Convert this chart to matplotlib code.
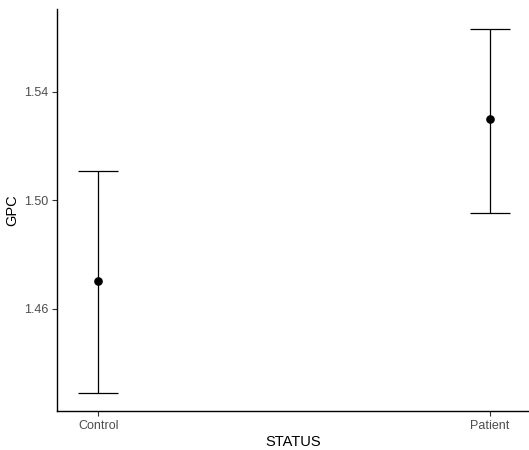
import matplotlib
matplotlib.use('Agg')
import matplotlib.pyplot as plt

# data
groups = ['Control', 'Patient']
means = [1.4701, 1.5298]
upper = [1.5109, 1.5633]
lower = [1.4290, 1.4952]

plt.rcParams['font.family'] = 'Liberation Sans'

fig = plt.figure(figsize=(5.29, 4.5), dpi=100)
ax = fig.add_axes([57 / 529, 1 - 411 / 450, 472 / 529, 402 / 450])

x = [1, 2]
yerr = [[m - l for m, l in zip(means, lower)],
        [u - m for m, u in zip(means, upper)]]
ax.errorbar(x, means, yerr=yerr, fmt='none', ecolor='black',
            elinewidth=0.9, capsize=14.4, capthick=0.9)
ax.plot(x, means, 'o', color='black', markersize=5.2)

ax.set_xlim(0.895, 2.1)
ax.set_ylim(1.4223, 1.5705)
ax.set_xticks(x)
ax.set_xticklabels(groups)
ax.set_yticks([1.46, 1.50, 1.54])
ax.set_yticklabels(['1.46', '1.50', '1.54'])

for side in ['top', 'right']:
    ax.spines[side].set_visible(False)
for side in ['left', 'bottom']:
    ax.spines[side].set_color('black')
    ax.spines[side].set_linewidth(1.0)

ax.tick_params(axis='both', colors='#333333', labelcolor='#4D4D4D',
               labelsize=9, length=3.5, width=0.8, pad=3)

ax.set_xlabel('STATUS', fontsize=10.5, color='black', labelpad=2)
ax.set_ylabel('GPC', fontsize=10.5, color='black', labelpad=3)

fig.savefig('out.png', dpi=100)
